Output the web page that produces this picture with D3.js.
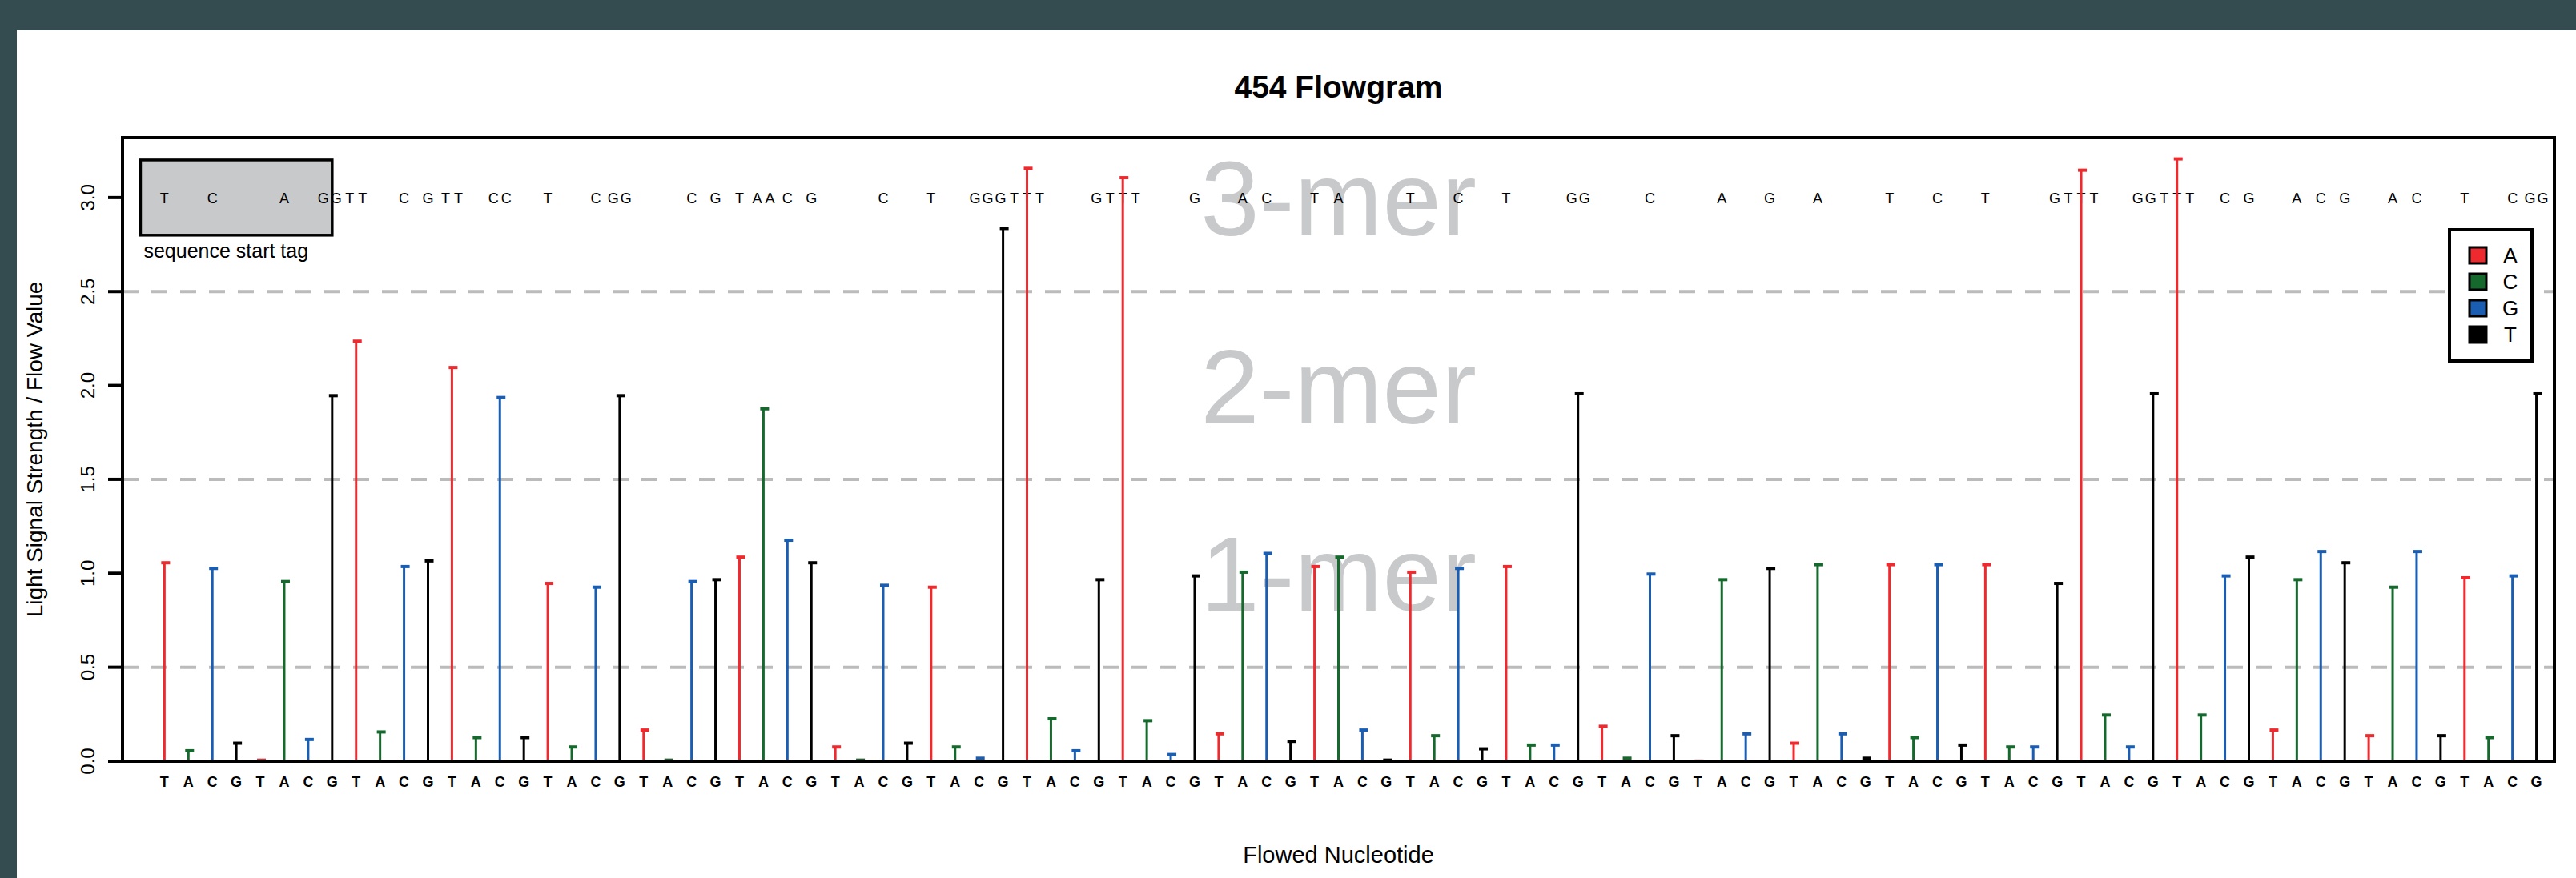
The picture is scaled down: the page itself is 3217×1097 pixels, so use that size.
<!DOCTYPE html>
<html>
<head>
<meta charset="utf-8">
<script src="https://cdn.jsdelivr.net/npm/d3@7"></script>
<style>
  body { margin: 0; background: #344c50; overflow: hidden; }
  text { font-family: "Liberation Sans", Arial, sans-serif; }
</style>
</head>
<body>
<svg id="chart"></svg>
<script>
// x axis labels cycle through this order
var flowLabels = ["T", "A", "C", "G"];
// stem colours cycle through this order (legend order too)
var stemBases = ["A", "C", "G", "T"];
var baseColors = ["#ee2a2f", "#15692c", "#1a5eb3", "#000000"];

// signal value of each of the 100 flows
var flowValues = [
  1.06, 0.06, 1.03, 0.10, 0.01, 0.96, 0.12, 1.95, 2.24, 0.16,
  1.04, 1.07, 2.10, 0.13, 1.94, 0.13, 0.95, 0.08, 0.93, 1.95,
  0.17, 0.01, 0.96, 0.97, 1.09, 1.88, 1.18, 1.06, 0.08, 0.01,
  0.94, 0.10, 0.93, 0.08, 0.02, 2.84, 3.16, 0.23, 0.06, 0.97,
  3.11, 0.22, 0.04, 0.99, 0.15, 1.01, 1.11, 0.11, 1.04, 1.09,
  0.17, 0.01, 1.01, 0.14, 1.03, 0.07, 1.04, 0.09, 0.09, 1.96,
  0.19, 0.02, 1.00, 0.14, 0.005, 0.97, 0.15, 1.03, 0.10, 1.05,
  0.15, 0.02, 1.05, 0.13, 1.05, 0.09, 1.05, 0.08, 0.08, 0.95,
  3.15, 0.25, 0.08, 1.96, 3.21, 0.25, 0.99, 1.09, 0.17, 0.97,
  1.12, 1.06, 0.14, 0.93, 1.12, 0.14, 0.98, 0.13, 0.99, 1.96
];

var yTicks = [0, 0.5, 1, 1.5, 2, 2.5, 3];
var gridLines = [0.5, 1.5, 2.5];
var merLabels = [["1-mer", 1], ["2-mer", 2], ["3-mer", 3]];
var tagFlows = [-1, 7];   // start tag box spans these flows
var tagRange = [2.8, 3.2];

var W = 3217, H = 1097;
var svg = d3.select("#chart").attr("width", W).attr("height", H);

svg.append("rect").attr("width", W).attr("height", H).attr("fill", "#344c50");
svg.append("rect").attr("x", 21).attr("y", 38).attr("width", W - 21).attr("height", H - 38).attr("fill", "#fff");

var x = d3.scaleLinear().domain([-1.75, 99.75]).range([153, 3190]);
var y = d3.scaleLinear().domain([0, 3.319]).range([951, 172]);
var color = d3.scaleOrdinal().domain(stemBases).range(baseColors);

var flows = flowValues.map(function (v, i) {
  return { i: i, v: v, label: flowLabels[i % 4], base: stemBases[i % 4] };
});

// big grey n-mer labels behind everything
svg.append("g").selectAll("text")
  .data(merLabels).enter().append("text")
  .attr("x", (x.range()[0] + x.range()[1]) / 2)
  .attr("y", d => y(d[1]) + 47)
  .attr("text-anchor", "middle")
  .attr("font-size", 132)
  .attr("fill", "#c8c9cb")
  .text(d => d[0]);

// dashed grid
svg.append("g").selectAll("line")
  .data(gridLines).enter().append("line")
  .attr("x1", x.range()[0]).attr("x2", x.range()[1])
  .attr("y1", d => y(d)).attr("y2", d => y(d))
  .attr("stroke", "#bbbbbb").attr("stroke-width", 4)
  .attr("stroke-dasharray", "20,16");

// sequence start tag box
svg.append("rect")
  .attr("x", x(tagFlows[0])).attr("y", y(tagRange[1]))
  .attr("width", x(tagFlows[1]) - x(tagFlows[0]))
  .attr("height", y(tagRange[0]) - y(tagRange[1]))
  .attr("fill", "#c8c9cb").attr("stroke", "#000").attr("stroke-width", 3.5);
svg.append("text")
  .attr("x", x(tagFlows[0]) + 4).attr("y", 322)
  .attr("font-size", 25)
  .text("sequence start tag");

// called bases along the top: each flow's label repeated round(value) times
// groups are centred on their flow, pushed left if they run into the next group
var groups = flows.filter(d => Math.round(d.v) >= 1).map(function (d) {
  var n = Math.round(d.v);
  return { t: d.label, xs: d3.range(n).map(k => x(d.i) + (k - (n - 1) / 2) * 16) };
});
for (var g = groups.length - 2; g >= 0; g--) {
  var last = groups[g].xs[groups[g].xs.length - 1];
  var nextFirst = groups[g + 1].xs[0];
  if (nextFirst - last < 16) {
    var shift = nextFirst - 17 - last;
    groups[g].xs = groups[g].xs.map(v => v + shift);
  }
}
var letters = [];
groups.forEach(gr => gr.xs.forEach(v => letters.push({ x: v, t: gr.t })));
svg.append("g").selectAll("text")
  .data(letters).enter().append("text")
  .attr("x", d => d.x).attr("y", y(3) + 7)
  .attr("text-anchor", "middle")
  .attr("font-size", 18)
  .text(d => d.t);

// stems
var stems = svg.append("g");
stems.selectAll("line")
  .data(flows).enter().append("line")
  .attr("x1", d => x(d.i)).attr("x2", d => x(d.i))
  .attr("y1", y(0)).attr("y2", d => y(d.v))
  .attr("stroke", d => color(d.base)).attr("stroke-width", 3);
stems.selectAll("rect")
  .data(flows).enter().append("rect")
  .attr("x", d => x(d.i) - 4).attr("y", d => y(d.v) - 1)
  .attr("width", 11).attr("height", 4)
  .attr("fill", d => color(d.base));

// frame
var x0 = x.range()[0], x1 = x.range()[1], yb = y(0), yt = y.range()[1];
svg.append("path")
  .attr("d", "M" + x0 + "," + yb + "V" + yt + "H" + x1 + "V" + yb + "Z")
  .attr("fill", "none").attr("stroke", "#000").attr("stroke-width", 4);

// y axis
var yAxis = svg.append("g");
yAxis.selectAll("line")
  .data(yTicks).enter().append("line")
  .attr("x1", 135).attr("x2", x0)
  .attr("y1", d => y(d)).attr("y2", d => y(d))
  .attr("stroke", "#000").attr("stroke-width", 4);
yAxis.selectAll("text")
  .data(yTicks).enter().append("text")
  .attr("transform", d => "translate(118," + y(d) + ") rotate(-90)")
  .attr("text-anchor", "middle")
  .attr("font-size", 24)
  .text(d => d3.format(".1f")(d));

// x axis labels
svg.append("g").selectAll("text")
  .data(flows).enter().append("text")
  .attr("x", d => x(d.i)).attr("y", 983)
  .attr("text-anchor", "middle")
  .attr("font-size", 18).attr("font-weight", "bold")
  .text(d => d.label);

// titles
svg.append("text")
  .attr("x", (x0 + x1) / 2).attr("y", 122)
  .attr("text-anchor", "middle")
  .attr("font-size", 39).attr("font-weight", "bold")
  .text("454 Flowgram");
svg.append("text")
  .attr("x", (x0 + x1) / 2).attr("y", 1078)
  .attr("text-anchor", "middle")
  .attr("font-size", 29)
  .text("Flowed Nucleotide");
svg.append("text")
  .attr("transform", "translate(53," + (yb + yt) / 2 + ") rotate(-90)")
  .attr("text-anchor", "middle")
  .attr("font-size", 28)
  .text("Light Signal Strength / Flow Value");

// legend
var lg = svg.append("g").attr("transform", "translate(3059,287)");
lg.append("rect").attr("width", 103).attr("height", 164)
  .attr("fill", "#fff").attr("stroke", "#000").attr("stroke-width", 4);
var items = lg.selectAll("g.item")
  .data(stemBases).enter().append("g")
  .attr("transform", (d, i) => "translate(0," + (32 + i * 33) + ")");
items.append("rect")
  .attr("x", 25).attr("y", -10).attr("width", 21).attr("height", 20)
  .attr("fill", d => color(d)).attr("stroke", "#000").attr("stroke-width", 3);
items.append("text")
  .attr("x", 76).attr("y", 9)
  .attr("text-anchor", "middle")
  .attr("font-size", 26)
  .text(d => d);
</script>
</body>
</html>
